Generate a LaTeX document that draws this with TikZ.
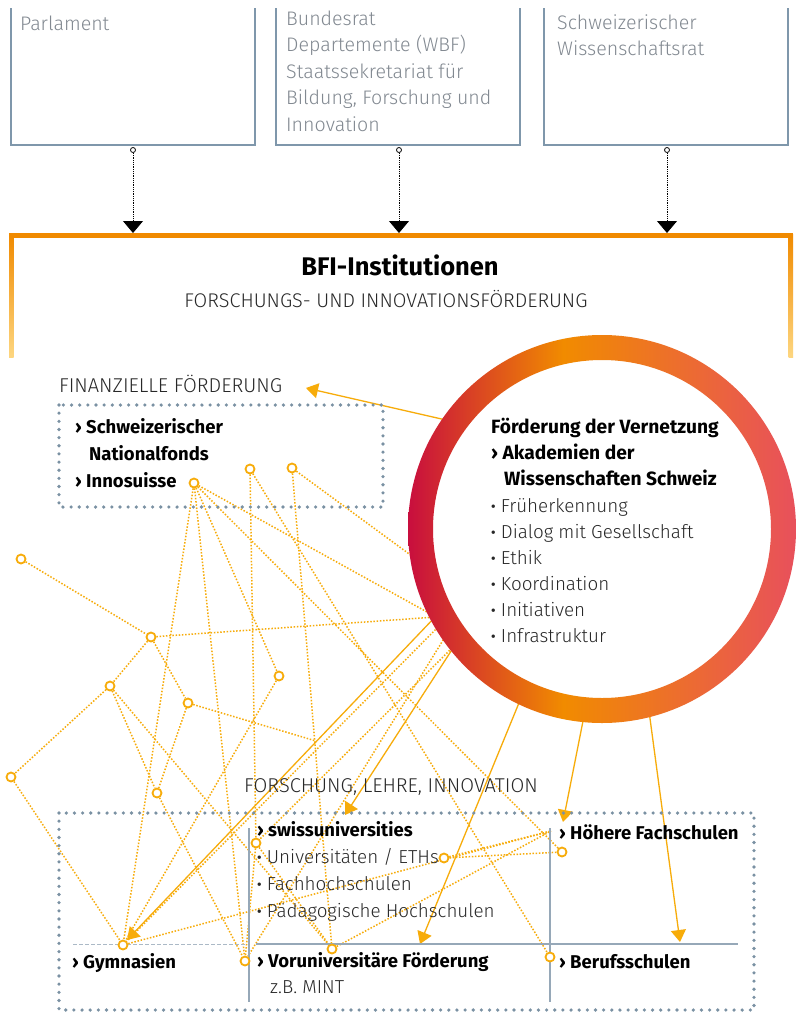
\documentclass[tikz,border=0pt]{standalone}
\usepackage{fontspec}
\setmainfont{Fira Sans}
\newfontfamily\lightfont{Fira Sans Light}
\usetikzlibrary{arrows.meta}
\definecolor{boxgray}{RGB}{127,151,171}
\definecolor{dotgray}{RGB}{122,145,163}
\definecolor{bfiorange}{RGB}{240,138,0}
\definecolor{bfilight}{RGB}{253,214,128}
\definecolor{netorange}{RGB}{247,172,10}
\definecolor{ringred}{RGB}{200,14,62}
\definecolor{ringorange}{RGB}{241,139,0}
\definecolor{ringpink}{RGB}{232,80,92}
\definecolor{graytext}{RGB}{130,137,145}
\definecolor{darktext}{RGB}{40,40,40}
\definecolor{linegray}{RGB}{150,168,184}
\newcommand{\bulletdot}{{\rmfamily\bfseries ·}}
\pgfdeclarehorizontalshading{ringshade}{100bp}{color(0bp)=(ringred); color(25bp)=(ringred); color(45bp)=(ringorange); color(75bp)=(ringpink); color(100bp)=(ringpink)}
\pgfdeclarelayer{bglayer}
\pgfdeclarelayer{netlayer}
\pgfsetlayers{bglayer,netlayer,main}
\tikzset{
  topbox/.style={draw=boxgray, line width=2.4pt},
  toptxt/.style={anchor=base west, inner sep=0pt, text=graytext, font=\lightfont\fontsize{19.6}{23}\selectfont},
  boldtxt/.style={anchor=base west, inner sep=0pt, text=black, font=\bfseries\fontsize{18.5}{22}\selectfont},
  ringbold/.style={anchor=base west, inner sep=0pt, text=black, font=\bfseries\fontsize{19.2}{22}\selectfont},
  lighttxt/.style={anchor=base west, inner sep=0pt, text=darktext, font=\lightfont\fontsize{18.8}{22}\selectfont},
  captxt/.style={anchor=base west, inner sep=0pt, text=darktext, font=\lightfont\fontsize{20}{22}\selectfont},
  netdot/.style={circle, draw=netorange, fill=white, line width=1.8pt, inner sep=0pt, minimum size=9pt},
  net/.style={draw=netorange, line width=1.5pt, dash pattern=on 1.5pt off 1.7pt},
  solidarrow/.style={draw=netorange, line width=1.3pt, -{Triangle[width=15pt,length=12pt]}},
  blackarrow/.style={draw=black, line width=0.8pt, dash pattern=on 0.8pt off 1pt, -{Triangle[width=20pt,length=12pt]}},
  opendot/.style={circle, draw=black, fill=white, line width=0.8pt, inner sep=0pt, minimum size=5pt},
  dotbox/.style={draw=dotgray, line width=3.6pt, line cap=round, dash pattern=on 0pt off 8.15pt},
  divider/.style={draw=linegray, line width=1.2pt},
}
\begin{document}
\begin{tikzpicture}[x=1pt,y=-1pt]
\begin{pgfonlayer}{bglayer}
\fill[white] (0,0) rectangle (797,1012);
\end{pgfonlayer}
\useasboundingbox (0,0) rectangle (797,1012);

% ---------- top boxes ----------
\draw[topbox] (11,8) -- (11,145) -- (255,145) -- (255,8);
\draw[topbox] (276,8) -- (276,145) -- (520,145) -- (520,8);
\draw[topbox] (544,8) -- (544,145) -- (788,145) -- (788,8);
\node[toptxt] (parl) at (20,30) {Parlament};
\node[toptxt] (br1) at (286,25) {Bundesrat};
\node[toptxt] (br2) at (286,51.5) {Departemente (WBF)};
\node[toptxt] (br3) at (286,78) {Staatssekretariat für};
\node[toptxt] (br4) at (286,104.5) {Bildung, Forschung und};
\node[toptxt] (br5) at (286,131) {Innovation};
\node[toptxt] (swr1) at (557,29) {Schweizerischer};
\node[toptxt] (swr2) at (557,55) {Wissenschaftsrat};

% connectors to BFI
\node[opendot] (o1) at (133,150) {};
\node[opendot] (o2) at (399,150) {};
\node[opendot] (o3) at (667,150) {};
\coordinate (t1) at (133,233);
\coordinate (t2) at (399,233);
\coordinate (t3) at (667,233);
\draw[blackarrow] (o1) -- (t1);
\draw[blackarrow] (o2) -- (t2);
\draw[blackarrow] (o3) -- (t3);

% ---------- BFI frame ----------
\shade[top color=bfiorange, bottom color=bfilight] (9,234) rectangle (13.5,357);
\shade[top color=bfiorange, bottom color=bfilight] (788.5,234) rectangle (793,357);
\fill[bfiorange] (9,233) rectangle (793,237.5);
\node[anchor=base, inner sep=0pt, font=\bfseries\fontsize{25.5}{28}\selectfont] (bfi) at (400,275) {BFI-Institutionen};
\node[anchor=base, inner sep=0pt, text=darktext, font=\lightfont\fontsize{19.8}{22}\selectfont] (fif) at (386,307) {FORSCHUNGS- UND INNOVATIONSFÖRDERUNG};

% ---------- Finanzielle Förderung ----------
\node[captxt] (finlab) at (59,392) {FINANZIELLE FÖRDERUNG};
\draw[dotbox] (59,405) rectangle (383,507);
\node[boldtxt] (snf1) at (75,433) {› Schweizerischer};
\node[boldtxt] (snf2) at (89,460) {Nationalfonds};
\node[boldtxt] (inno) at (75,487) {› Innosuisse};

% ---------- bottom box ----------
\node[captxt] (flilab) at (244,792) {FORSCHUNG, LEHRE, INNOVATION};
\draw[dotbox] (59,813) rectangle (754,1010);
\draw[divider] (249,828) -- (249,1002);
\draw[divider] (550,828) -- (550,1002);
\draw[divider] (256,944) -- (738,944);
\draw[draw=linegray!80, line width=1pt, dash pattern=on 4pt off 2pt] (73,944) -- (247,944);
\node[boldtxt] (swu) at (257,836) {› swissuniversities};
\node[lighttxt] (uni) at (257,863) {\bulletdot\ Universitäten / ETHs};
\node[lighttxt] (fh) at (257,890) {\bulletdot\ Fachhochschulen};
\node[lighttxt] (ph) at (257,917) {\bulletdot\ Pädagogische Hochschulen};
\node[boldtxt] (hf) at (559,839) {› Höhere Fachschulen};
\node[boldtxt] (gym) at (72,968) {› Gymnasien};
\node[boldtxt] (vor) at (257,967) {› Voruniversitäre Förderung};
\node[lighttxt] (mint) at (270,993) {z.B. MINT};
\node[boldtxt] (bs) at (559,968) {› Berufsschulen};

% ---------- network nodes ----------
\node[netdot] (c1) at (194,483) {};
\node[netdot] (c2) at (250,469) {};
\node[netdot] (c3) at (292,468) {};
\node[netdot] (c4) at (21,559) {};
\node[netdot] (c5) at (151,637) {};
\node[netdot] (c6) at (110,686) {};
\node[netdot] (c7) at (188,703) {};
\node[netdot] (c8) at (279,676) {};
\node[netdot] (c9) at (11,777) {};
\node[netdot] (c10) at (157,793) {};
\node[netdot] (c11) at (256,843) {};
\node[netdot] (c12) at (123,945) {};
\node[netdot] (c13) at (245,961) {};
\node[netdot] (c14) at (332,949) {};
\node[netdot] (c15) at (444,858) {};
\node[netdot] (c16) at (562,852) {};
\node[netdot] (c17) at (550,957) {};

\coordinate (ringc) at (602,529);
\coordinate (r1) at (436,617);
\coordinate (r2) at (416,559);
\coordinate (r3) at (440,625);
\coordinate (r4) at (445,637);
\coordinate (r5) at (452,648);
\coordinate (H) at (551,831);
\coordinate (p7) at (316,741);
\coordinate (a1s) at (446,420);
\coordinate (a1t) at (306,388);
\coordinate (a2s) at (436,616);
\coordinate (a2t) at (127,940);
\coordinate (a3s) at (455,645);
\coordinate (a3t) at (345,815);
\coordinate (a4s) at (521,698);
\coordinate (a4t) at (420,944);
\coordinate (a5s) at (584,716);
\coordinate (a5t) at (563,822);
\coordinate (a6s) at (649,711);
\coordinate (a6t) at (680,942);

\begin{pgfonlayer}{netlayer}
\draw[net] (c1) -- (c12);
\draw[net] (c1) -- (c8);
\draw[net] (c1) -- (c16);
\draw[net] (c1) -- (r1);
\draw[net] (c1) -- (c13);
\draw[net] (c2) -- (c11);
\draw[net] (c2) -- (c17);
\draw[net] (c3) -- (c14);
\draw[net] (c3) -- (r2);
\draw[net] (c4) -- (c5);
\draw[net] (c5) -- (r1);
\draw[net] (c5) -- (c6);
\draw[net] (c5) -- (c7);
\draw[net] (c6) -- (c9);
\draw[net] (c6) -- (c10);
\draw[net] (c6) -- (c14);
\draw[net] (c7) -- (c10);
\draw[net] (c7) -- (p7);
\draw[net] (c8) -- (c12);
\draw[net] (c9) -- (c12);
\draw[net] (c10) -- (c13);
\draw[net] (r3) -- (c12);
\draw[net] (r4) -- (c13);
\draw[net] (r5) -- (c11);
\draw[net] (c11) -- (c13);
\draw[net] (c11) -- (c14);
\draw[net] (c12) -- (H);
\draw[net] (c14) -- (H);
\draw[net] (c15) -- (c16);
\draw[net] (c15) -- (H);
% solid arrows from the ring
\draw[solidarrow] (a1s) -- (a1t);
\draw[solidarrow] (a2s) -- (a2t);
\draw[solidarrow] (a3s) -- (a3t);
\draw[solidarrow] (a4s) -- (a4t);
\draw[solidarrow] (a5s) -- (a5t);
\draw[solidarrow] (a6s) -- (a6t);
\end{pgfonlayer}

% ---------- ring ----------
\fill[white] (ringc) circle (170pt);
\shade[shading=ringshade, even odd rule] (ringc) circle (194pt) (ringc) circle (169pt);
\node[ringbold] (fv) at (491,433) {Förderung der Vernetzung};
\node[ringbold] (ak1) at (491,459) {› Akademien der};
\node[ringbold] (ak2) at (504,485) {Wissenschaften Schweiz};
\node[lighttxt] (b1) at (491,512) {\bulletdot\ Früherkennung};
\node[lighttxt] (b2) at (491,538) {\bulletdot\ Dialog mit Gesellschaft};
\node[lighttxt] (b3) at (491,564) {\bulletdot\ Ethik};
\node[lighttxt] (b4) at (491,590) {\bulletdot\ Koordination};
\node[lighttxt] (b5) at (491,616) {\bulletdot\ Initiativen};
\node[lighttxt] (b6) at (491,642) {\bulletdot\ Infrastruktur};
\end{tikzpicture}
\end{document}
